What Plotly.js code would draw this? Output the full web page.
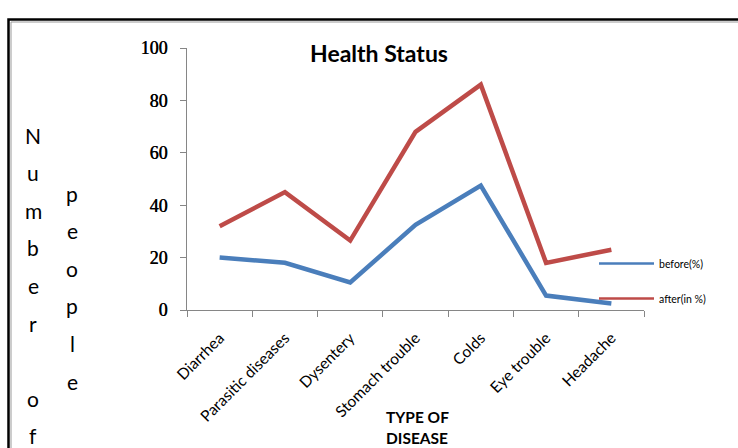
<!DOCTYPE html>
<html><head><meta charset="utf-8">
<script src="https://cdn.plot.ly/plotly-3.0.1.min.js"></script>
<style>html,body{margin:0;padding:0;background:#fff}</style>
</head><body><div id="chart" style="width:738px;height:448px"></div>
<script>
const categories = ['Diarrhea','Parasitic diseases','Dysentery','Stomach trouble','Colds','Eye trouble','Headache'];
const beforePct = [20, 18, 10.5, 32.5, 47.5, 5.5, 2.5];
const afterPct  = [32, 45, 26.5, 68, 86, 18, 23];
const seriesNames = ['before(%)', 'after(in %)'];
const yTicks = [0, 20, 40, 60, 80, 100];
const yTitleCol1 = ['N','u','m','b','e','r','','o','f'];
const yTitleCol2 = ['p','e','o','p','l','e'];
const xTitleLines = ['TYPE OF', 'DISEASE'];

// plot area pixel frame
const L = 187, R = 644, T = 48, B = 310, W = 738, H = 448;
const px = x => (x - L) / (R - L);
const py = y => (B - y) / (B - T);

const annotations = [];
yTitleCol1.forEach((ch, i) => {
  if (!ch) return;
  annotations.push({text: ch, xref:'paper', yref:'paper', x: px(33), y: py(142 + 37.6*i - 7),
    xanchor:'center', yanchor:'middle', showarrow:false,
    font:{family:'Lato, sans-serif', size:21, color:'#000'}});
});
yTitleCol2.forEach((ch, i) => {
  annotations.push({text: ch, xref:'paper', yref:'paper', x: px(72), y: py(200 + 37.6*i - 7),
    xanchor:'center', yanchor:'middle', showarrow:false,
    font:{family:'Lato, sans-serif', size:21, color:'#000'}});
});
xTitleLines.forEach((t, i) => {
  annotations.push({text: '<b>' + t + '</b>', xref:'paper', yref:'paper', x: px(417), y: py(417 + 21*i),
    xanchor:'center', yanchor:'middle', showarrow:false,
    font:{family:'Lato, sans-serif', size:15.5, color:'#000'}});
});

const colors = ['#4A7EBB', '#BE4B48'];
const traces = [
  {x: categories, y: beforePct, name: seriesNames[0], type:'scatter', mode:'lines',
   line:{color:colors[0], width:4.5}, showlegend:false},
  {x: categories, y: afterPct, name: seriesNames[1], type:'scatter', mode:'lines',
   line:{color:colors[1], width:4.5}, showlegend:false},
  // legend entries (thinner key lines, as in the reference)
  {x: [null], y: [null], name: seriesNames[0], type:'scatter', mode:'lines',
   line:{color:colors[0], width:2.5}, legendgroup:'a'},
  {x: [null], y: [null], name: seriesNames[1], type:'scatter', mode:'lines',
   line:{color:colors[1], width:2.5}, legendgroup:'b'}
];

const layout = {
  width: W, height: H,
  margin: {l: L, r: W - R, t: T, b: H - B, pad: 0},
  paper_bgcolor:'#fff', plot_bgcolor:'#fff',
  showlegend: true,
  title: {text:'<b>Health Status</b>', xref:'paper', x: px(379), xanchor:'center',
          yref:'container', y: 1 - 54/H, yanchor:'middle',
          font:{family:'Lato, sans-serif', size:23, color:'#000'}},
  xaxis: {type:'category', range:[-0.5, 6.5], tickson:'boundaries', ticks:'outside', ticklen:6,
          tickcolor:'#868686', showline:true, linecolor:'#868686', linewidth:1, showgrid:false,
          zeroline:false, tickangle:-45, ticklabelstandoff: 12,
          tickfont:{family:'Lato, sans-serif', size:15.5, color:'#000'}, fixedrange:true},
  yaxis: {range:[0, 100], tickvals: yTicks, ticks:'outside', ticklen:6, tickcolor:'#868686',
          showline:true, linecolor:'#868686', linewidth:1, showgrid:false, zeroline:false,
          ticklabelstandoff: 9,
          tickfont:{family:'Liberation Serif, serif', size:18, color:'#000',
                    shadow:'0.5px 0 0 #000'}, fixedrange:true},
  legend: {x: px(594), y: py(249), xanchor:'left', yanchor:'top', bgcolor:'rgba(0,0,0,0)',
           font:{family:'Lato, sans-serif', size:10.5, color:'#000'}, tracegroupgap: 16,
           itemwidth: 55},
  annotations: annotations,
  shapes: [
    {type:'rect', xref:'paper', yref:'paper', x0: px(8.5), x1: px(760), y0: py(19.5), y1: py(480),
     line:{color:'#000', width:2.5}, fillcolor:'rgba(0,0,0,0)', layer:'below'},
    {type:'rect', xref:'paper', yref:'paper', x0: px(11), x1: px(760), y0: py(22), y1: py(480),
     line:{color:'#999', width:1}, fillcolor:'rgba(0,0,0,0)', layer:'below'}
  ]
};

Plotly.newPlot('chart', traces, layout, {displayModeBar:false, staticPlot:true});
</script></body></html>
